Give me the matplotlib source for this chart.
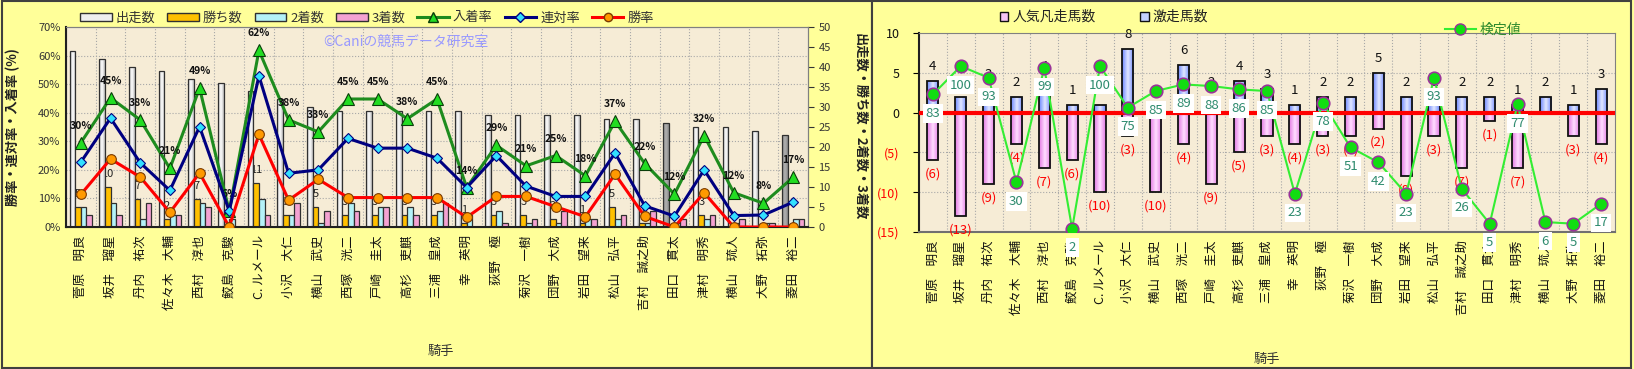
import matplotlib
matplotlib.use('Agg')
import matplotlib.pyplot as plt
import numpy as np
from matplotlib.patches import Rectangle, Patch
from matplotlib.lines import Line2D
from matplotlib.colors import LinearSegmentedColormap

plt.rcParams['font.family'] = ['Noto Sans CJK JP', 'DejaVu Sans']

# ---- data ----
jockeys = ['菅原　明良', '坂井　瑠星', '丹内　祐次', '佐々木　大輔', '西村　淳也',
           '鮫島　克駿', 'C. ルメール', '小沢　大仁', '横山　武史', '西塚　洸二',
           '戸崎　圭太', '高杉　吏麒', '三浦　皇成', '幸　英明', '荻野　極',
           '菊沢　一樹', '団野　大成', '岩田　望来', '松山　弘平', '吉村　誠之助',
           '田口　貫太', '津村　明秀', '横山　琉人', '大野　拓弥', '菱田　裕二']

starts = [44, 42, 40, 39, 37, 36, 34, 32, 30, 29, 29, 29, 29, 29, 28, 28, 28, 28, 27, 27, 26, 25, 25, 24, 23]
wins = [5, 10, 7, 2, 7, 0, 11, 3, 5, 3, 3, 3, 3, 1, 3, 3, 2, 1, 5, 1, 0, 3, 0, 0, 0]
seconds = [5, 6, 2, 3, 6, 2, 7, 3, 1, 6, 5, 5, 4, 3, 4, 1, 1, 2, 2, 1, 1, 2, 1, 1, 2]
thirds = [3, 3, 6, 3, 5, 0, 3, 6, 4, 4, 5, 3, 6, 0, 1, 2, 4, 2, 3, 4, 2, 3, 2, 1, 2]
gray_starts = ['田口　貫太', '菱田　裕二']

win_rate = [11.4, 23.8, 17.5, 5.1, 18.9, 0.0, 32.4, 9.4, 16.7, 10.3, 10.3, 10.3, 10.3,
            3.4, 10.7, 10.7, 7.1, 3.6, 18.5, 3.7, 0.0, 12.0, 0.0, 0.0, 0.0]
quin_rate = [22.7, 38.1, 22.5, 12.8, 35.1, 5.6, 52.9, 18.8, 20.0, 31.0, 27.6, 27.6, 24.1,
             13.8, 25.0, 14.3, 10.7, 10.7, 25.9, 7.4, 3.8, 20.0, 4.0, 4.2, 8.7]
place_rate = [29.5, 45.2, 37.5, 20.5, 48.6, 5.6, 61.8, 37.5, 33.3, 44.8, 44.8, 37.9, 44.8,
              13.8, 28.6, 21.4, 25.0, 17.9, 37.0, 22.2, 11.5, 32.0, 12.0, 8.3, 17.4]

gekisou = [4, 2, 3, 2, 4, 1, 1, 8, 1, 6, 2, 4, 3, 1, 2, 2, 5, 2, 2, 2, 2, 1, 2, 1, 3]
bonsou = [6, 13, 9, 4, 7, 6, 10, 3, 10, 4, 9, 5, 3, 4, 3, 3, 2, 8, 3, 7, 1, 7, 0, 3, 4]
kentei = [83, 100, 93, 30, 99, 2, 100, 75, 85, 89, 88, 86, 85, 23, 78, 51, 42, 23, 93, 26, 5, 77, 6, 5, 17]

W, H = 1634, 369
def fx(px):
    return px / W
def fy(py):
    return 1 - py / H

BG = '#F6ECD6'
TXT = '#333333'


def shade(ax, bars, edge_col, mid='white'):
    # gradient fill clipped to each bar
    cmap = LinearSegmentedColormap.from_list('g', [edge_col, mid, edge_col])
    grad = np.linspace(0, 1, 64).reshape(1, -1)
    for b in bars:
        h = b.get_height()
        if h == 0:
            continue
        x0, y0, w = b.get_x(), b.get_y(), b.get_width()
        im = ax.imshow(grad, extent=[x0, x0 + w, y0, y0 + h], aspect='auto',
                       cmap=cmap, interpolation='bilinear', zorder=b.get_zorder() - 0.1)
        im.set_clip_path(b)


fig = plt.figure(figsize=(W / 100, H / 100), dpi=100)
fig.patch.set_facecolor('#FFFF99')
fig.patches.append(Rectangle((0.001, 0.003), fx(872) - 0.001, 0.994, transform=fig.transFigure,
                             fc='#FFFF99', ec='#404040', lw=1.5, zorder=-10))
fig.patches.append(Rectangle((fx(872), 0.003), 0.998 - fx(872), 0.994, transform=fig.transFigure,
                             fc='#FFFF99', ec='#404040', lw=1.5, zorder=-10))

n = len(jockeys)
x = np.arange(n)

# ================= left chart =================
ax1 = fig.add_axes([fx(66), fy(227), fx(808) - fx(66), fy(27) - fy(227)])
ax1b = ax1.twinx()
ax1b.set_zorder(1)
ax1.set_zorder(2)
ax1.patch.set_visible(False)
ax1b.patch.set_visible(True)
ax1b.set_facecolor(BG)

for v in range(10, 70, 10):
    ax1b.axhline(v * 50 / 70, color='#A8A8A8', lw=0.8, ls=':', zorder=0.5)
for i in range(n - 1):
    ax1b.axvline(i + 0.5, color='#A8A8A8', lw=0.8, ls=':', zorder=0.5)

bw = 0.19
b0 = ax1b.bar(x - 0.285, starts, bw, fc='none', ec='#303030', lw=0.9, zorder=3)
b1 = ax1b.bar(x - 0.095, wins, bw, fc='#FFC000', ec='#303030', lw=0.9, zorder=3)
b2 = ax1b.bar(x + 0.095, seconds, bw, fc='#B4F2F8', ec='#303030', lw=0.9, zorder=3)
b3 = ax1b.bar(x + 0.285, thirds, bw, fc='#F4A2D2', ec='#303030', lw=0.9, zorder=3)
for b, name in zip(b0, jockeys):
    shade(ax1b, [b], '#8C8C8C' if name in gray_starts else '#BEBEBE',
          mid='#B0B0B0' if name in gray_starts else 'white')

for i, v in enumerate(wins):
    if v > 0:
        ax1b.annotate(str(v), (i - 0.095, v), xytext=(0, 13), textcoords='offset pixels',
                      ha='center', va='center', fontsize=8, color='#222222', zorder=2)

ax1b.set_ylim(0, 50)
ax1b.set_yticks(range(0, 51, 5))
ax1b.tick_params(axis='y', labelsize=8, colors=TXT, length=4)
ax1b.set_ylabel('出走数・勝ち数・2着数・3着数', fontsize=9.5, fontweight='bold',
                rotation=270, color='#222222')
ax1b.yaxis.set_label_coords(1.08, 0.5)

ax1.plot(x, place_rate, color='#1E8C1E', lw=2.2, marker='^', ms=8, mfc='#22DD22',
         mec='#0A3D0A', mew=0.8, zorder=3)
ax1.plot(x, quin_rate, color='#000080', lw=2.2, marker='D', ms=5.5, mfc='#33E0FF',
         mec='#000080', mew=0.8, zorder=4)
ax1.plot(x, win_rate, color='#FF0000', lw=2.2, marker='o', ms=7, mfc='#FF9900',
         mec='#7A3A00', mew=0.8, zorder=5)
for i, v in enumerate(place_rate):
    ax1.annotate(f'{int(v + 0.5)}%', (i, v), xytext=(0, 17), textcoords='offset pixels',
                 ha='center', va='center', fontsize=7.5, fontweight='bold', color='#111111')

ax1.set_xlim(-0.5, n - 0.5)
ax1.set_ylim(0, 70)
ax1.set_yticks(range(0, 71, 10))
ax1.set_yticklabels([f'{v}%' for v in range(0, 71, 10)])
ax1.tick_params(axis='y', labelsize=8, colors=TXT, length=0, pad=4)
ax1.set_xticks(x)
ax1.set_xticklabels(jockeys, rotation=90, fontsize=9, color='#111111')
ax1.tick_params(axis='x', length=0, pad=6)
ax1.set_ylabel('勝率・連対率・入着率 (%)', fontsize=9.5, fontweight='bold', color='#222222')
ax1.yaxis.set_label_coords(-0.062, 0.5)
ax1.set_xlabel('騎手', fontsize=9.5, color=TXT)
ax1.xaxis.set_label_coords(0.505, -0.59)
for ax in (ax1, ax1b):
    for s in ax.spines.values():
        s.set_color('#808080')
ax1.spines['left'].set_color('#202020')
ax1.spines['left'].set_linewidth(1.5)
ax1.spines['bottom'].set_color('#202020')
ax1.spines['bottom'].set_linewidth(1.5)

fig.text(fx(323), fy(42), '©Caniの競馬データ研究室', fontsize=10, color='#9999FF',
         ha='left', va='center', zorder=20)

h_left = [Patch(fc='#EEEEEE', ec='#303030'), Patch(fc='#FFC000', ec='#303030'),
          Patch(fc='#B4F2F8', ec='#303030'), Patch(fc='#F4A2D2', ec='#303030'),
          Line2D([], [], color='#1E8C1E', lw=2.2, marker='^', ms=7, mfc='#22DD22', mec='#0A3D0A'),
          Line2D([], [], color='#000080', lw=2.2, marker='D', ms=5, mfc='#33E0FF', mec='#000080'),
          Line2D([], [], color='#FF0000', lw=2.2, marker='o', ms=6, mfc='#FF9900', mec='#7A3A00')]
fig.legend(h_left, ['出走数', '勝ち数', '2着数', '3着数', '入着率', '連対率', '勝率'],
           loc='center left', bbox_to_anchor=(fx(80), fy(18)), ncol=7, frameon=False,
           fontsize=9.5, handlelength=2.4, handleheight=0.55, handletextpad=0.3,
           columnspacing=0.9, borderaxespad=0, borderpad=0, labelcolor=TXT)

# ================= right chart =================
ax2 = fig.add_axes([fx(919), fy(232), fx(1615) - fx(919), fy(33) - fy(232)])
ax2.set_facecolor(BG)
for v in (-10, -5, 5):
    ax2.axhline(v, color='#A8A8A8', lw=0.8, ls=':', zorder=0.5)
for i in range(n - 1):
    ax2.axvline(i + 0.5, color='#A8A8A8', lw=0.8, ls=':', zorder=0.5)

up = ax2.bar(x, gekisou, 0.4, fc='none', ec='#111111', lw=1.3, zorder=3)
down = ax2.bar(x, [-v for v in bonsou], 0.4, fc='none', ec='#111111', lw=1.3, zorder=3)
shade(ax2, up, '#6C86FF', mid='#E2E8FF')
shade(ax2, down, '#E277E2', mid='#FFDDFF')
ax2.axhline(0, color='#FF0000', lw=3, zorder=4)

for i, v in enumerate(gekisou):
    if v > 0:
        ax2.annotate(str(v), (i, v), xytext=(0, 14), textcoords='offset pixels',
                     ha='center', va='center', fontsize=9.5, color='#111111', zorder=5)
for i, v in enumerate(bonsou):
    if v > 0:
        ax2.annotate(f'({v})', (i, -v), xytext=(0, -14), textcoords='offset pixels',
                     ha='center', va='center', fontsize=9.5, color='#FF0000', zorder=5)

ax2.set_xlim(-0.5, n - 0.5)
ax2.set_ylim(-15, 10)
yt = list(range(-15, 11, 5))
ax2.set_yticks(yt)
ax2.set_yticklabels([f'({-v})' if v < 0 else str(v) for v in yt])
for lb, v in zip(ax2.get_yticklabels(), yt):
    lb.set_color('#FF0000' if v < 0 else '#111111')
ax2.tick_params(axis='y', labelsize=9, length=4, pad=10)
ax2.set_xticks(x)
ax2.set_xticklabels(jockeys, rotation=90, fontsize=9, color='#111111')
ax2.tick_params(axis='x', length=0, pad=6)
ax2.set_xlabel('騎手', fontsize=9.5, color=TXT)
ax2.xaxis.set_label_coords(0.5, -0.608)
for s in ax2.spines.values():
    s.set_color('#808080')
ax2.spines['left'].set_color('#202020')
ax2.spines['left'].set_linewidth(1.5)
ax2.spines['bottom'].set_color('#707070')
ax2.spines['bottom'].set_linewidth(1.5)

ax2b = ax2.twinx()
ax2b.set_ylim(0, 120)
ax2b.set_yticks([])
for s in ax2b.spines.values():
    s.set_visible(False)
ax2b.plot(x, kentei, color='#33EE33', lw=1.5, marker='o', ms=9, mfc='#11DD11',
          mec='#993399', mew=1.2, zorder=3)
for i, v in enumerate(kentei):
    ax2b.annotate(str(v), (i, v), xytext=(0, -19), textcoords='offset pixels',
                  ha='center', va='center', fontsize=9.5, color='#2E8B6E', zorder=6,
                  bbox=dict(fc='white', ec='none', pad=2), annotation_clip=False)

fig.legend([Patch(fc='#F6C4F6', ec='#111111'), Patch(fc='#C4D0FF', ec='#111111')],
           ['人気凡走馬数', '激走馬数'], loc='center left',
           bbox_to_anchor=(fx(1000), fy(17)), ncol=2, frameon=False, fontsize=10,
           handlelength=0.6, handleheight=0.6, handletextpad=0.3, columnspacing=3.2,
           borderaxespad=0, borderpad=0, labelcolor='#222222')
fig.legend([Line2D([], [], color='#33EE33', lw=1.5, marker='o', ms=8, mfc='#11DD11',
                   mec='#993399')], ['検定値'], loc='center left',
           bbox_to_anchor=(fx(1445), fy(30)), frameon=False, fontsize=10,
           handlelength=2.2, handletextpad=0.3, borderaxespad=0, borderpad=0,
           labelcolor='#2E8B2E')

fig.savefig('out.png', dpi=100, facecolor=fig.get_facecolor())
